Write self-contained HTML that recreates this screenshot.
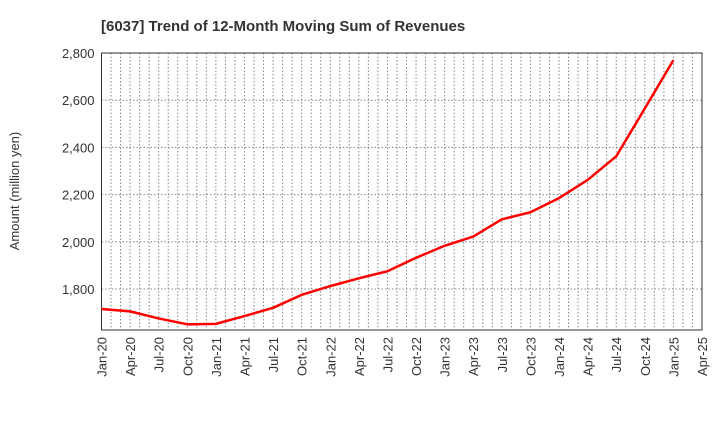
<!DOCTYPE html>
<html><head><meta charset="utf-8"><style>
body{margin:0;background:#fff;font-family:"Liberation Sans",sans-serif}
</style></head><body>
<svg id="c" width="720" height="440" xmlns="http://www.w3.org/2000/svg" font-family="Liberation Sans, sans-serif">
<text x="101" y="31" font-size="15" font-weight="bold" fill="#333">[6037]  Trend of 12-Month Moving Sum of Revenues</text>
<text transform="translate(19,191) rotate(-90)" text-anchor="middle" font-size="13" fill="#333">Amount (million yen)</text>
<g id="grid"></g><g id="axes"></g><g id="series"></g>
</svg>
<script>
const categories=["Jan-20","Apr-20","Jul-20","Oct-20","Jan-21","Apr-21","Jul-21","Oct-21","Jan-22","Apr-22","Jul-22","Oct-22","Jan-23","Apr-23","Jul-23","Oct-23","Jan-24","Apr-24","Jul-24","Oct-24","Jan-25","Apr-25"];
const revenues=[1715,1705,1675,1650,1652,1685,1720,1775,1812,1845,1875,1932,1983,2022,2095,2125,2185,2262,2362,2565,2770];
const yTicks=[1800,2000,2200,2400,2600,2800];
const L=101.5,R=702,T=53,B=330,yMin=1626,yMax=2800;
const NS="http://www.w3.org/2000/svg";
const months=(categories.length-1)*3;
function x(i){return L+(R-L)*i/(categories.length-1);}
function xm(m){return L+(R-L)*m/months;}
function y(v){return B-(v-yMin)/(yMax-yMin)*(B-T);}
function mk(t,a,p){const e=document.createElementNS(NS,t);for(const k in a)e.setAttribute(k,a[k]);p.appendChild(e);return e;}
const grid=document.getElementById('grid'),axes=document.getElementById('axes'),ser=document.getElementById('series');
for(let m=1;m<months;m++){const l=mk('line',{x1:xm(m),x2:xm(m),y1:T,y2:B,stroke:'#888','stroke-width':1,'stroke-dasharray':'1.5,2'},grid);

}
yTicks.forEach(v=>{const l=mk('line',{x1:L,x2:R,y1:y(v),y2:y(v),stroke:'#888','stroke-width':1,'stroke-dasharray':'1.5,2'},grid);


const t=mk('text',{x:L-7,y:y(v)+5,'text-anchor':'end','font-size':13,fill:'#333'},axes);t.textContent=v.toLocaleString('en-US');

});
const fr=mk('rect',{x:L,y:T,width:R-L,height:B-T,fill:'none',stroke:'#333','stroke-width':1},axes);


categories.forEach((c,i)=>{const t=mk('text',{transform:`translate(${x(i)+5},${B+7}) rotate(-90)`,'text-anchor':'end','font-size':13,fill:'#333'},axes);t.textContent=c;

});
const p=mk('polyline',{points:revenues.map((v,i)=>x(i)+','+y(v)).join(' '),fill:'none',stroke:'#f00','stroke-width':2.5,'stroke-linejoin':'round'},ser);


</script>
</body></html>
